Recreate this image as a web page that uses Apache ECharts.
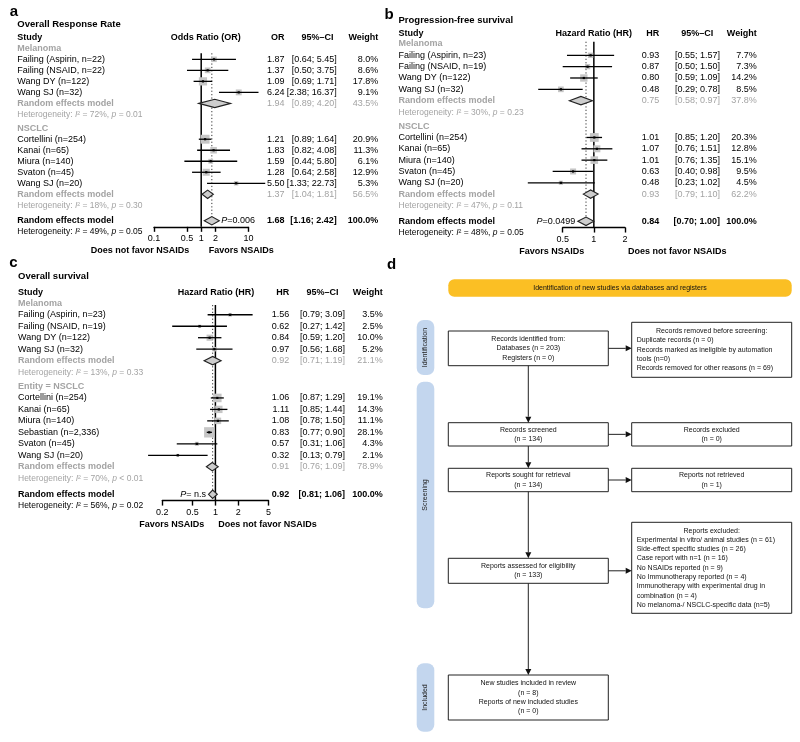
<!DOCTYPE html>
<html><head><meta charset="utf-8">
<script src="https://cdn.jsdelivr.net/npm/echarts@6/dist/echarts.min.js"></script>
<style>html,body{margin:0;padding:0;background:#fff}#c{width:800px;height:742px}</style>
</head><body><div id="c"></div>
<script>
// ================= DATA =================
// Panel a: Overall Response Rate (odds ratios) — [study, OR, lower, upper, weight%]
const orrMelanoma = [
  ['Failing (Aspirin, n=22)', 1.87, 0.64, 5.45, 8.0],
  ['Failing (NSAID, n=22)', 1.37, 0.50, 3.75, 8.6],
  ['Wang DY (n=122)', 1.09, 0.69, 1.71, 17.8],
  ['Wang SJ (n=32)', 6.24, 2.38, 16.37, 9.1]
];
const orrMelanomaPooled = [1.94, 0.89, 4.20, 43.5];
const orrMelanomaHet = ['72%', '= 0.01'];
const orrNsclc = [
  ['Cortellini (n=254)', 1.21, 0.89, 1.64, 20.9],
  ['Kanai (n=65)', 1.83, 0.82, 4.08, 11.3],
  ['Miura (n=140)', 1.59, 0.44, 5.80, 6.1],
  ['Svaton (n=45)', 1.28, 0.64, 2.58, 12.9],
  ['Wang SJ (n=20)', 5.50, 1.33, 22.73, 5.3]
];
const orrNsclcPooled = [1.37, 1.04, 1.81, 56.5];
const orrNsclcHet = ['18%', '= 0.30'];
const orrOverall = [1.68, 1.16, 2.42, 100.0];
const orrOverallHet = ['49%', '= 0.05'];
const orrP = '=0.006';
const orrTicks = [0.1, 0.5, 1, 2, 10];

// Panel b: Progression-free survival (hazard ratios)
const pfsMelanoma = [
  ['Failing (Aspirin, n=23)', 0.93, 0.55, 1.57, 7.7],
  ['Failing (NSAID, n=19)', 0.87, 0.50, 1.50, 7.3],
  ['Wang DY (n=122)', 0.80, 0.59, 1.09, 14.2],
  ['Wang SJ (n=32)', 0.48, 0.29, 0.78, 8.5]
];
const pfsMelanomaPooled = [0.75, 0.58, 0.97, 37.8];
const pfsMelanomaHet = ['30%', '= 0.23'];
const pfsNsclc = [
  ['Cortellini (n=254)', 1.01, 0.85, 1.20, 20.3],
  ['Kanai (n=65)', 1.07, 0.76, 1.51, 12.8],
  ['Miura (n=140)', 1.01, 0.76, 1.35, 15.1],
  ['Svaton (n=45)', 0.63, 0.40, 0.98, 9.5],
  ['Wang SJ (n=20)', 0.48, 0.23, 1.02, 4.5]
];
const pfsNsclcPooled = [0.93, 0.79, 1.10, 62.2];
const pfsNsclcHet = ['47%', '= 0.11'];
const pfsOverall = [0.84, 0.70, 1.00, 100.0];
const pfsOverallHet = ['48%', '= 0.05'];
const pfsP = '=0.0499';
const pfsTicks = [0.5, 1, 2];

// Panel c: Overall survival (hazard ratios)
const osMelanoma = [
  ['Failing (Aspirin, n=23)', 1.56, 0.79, 3.09, 3.5],
  ['Failing (NSAID, n=19)', 0.62, 0.27, 1.42, 2.5],
  ['Wang DY (n=122)', 0.84, 0.59, 1.20, 10.0],
  ['Wang SJ (n=32)', 0.97, 0.56, 1.68, 5.2]
];
const osMelanomaPooled = [0.92, 0.71, 1.19, 21.1];
const osMelanomaHet = ['13%', '= 0.33'];
const osNsclc = [
  ['Cortellini (n=254)', 1.06, 0.87, 1.29, 19.1],
  ['Kanai (n=65)', 1.11, 0.85, 1.44, 14.3],
  ['Miura (n=140)', 1.08, 0.78, 1.50, 11.1],
  ['Sebastian (n=2,336)', 0.83, 0.77, 0.90, 28.1],
  ['Svaton (n=45)', 0.57, 0.31, 1.06, 4.3],
  ['Wang SJ (n=20)', 0.32, 0.13, 0.79, 2.1]
];
const osNsclcPooled = [0.91, 0.76, 1.09, 78.9];
const osNsclcHet = ['70%', '< 0.01'];
const osOverall = [0.92, 0.81, 1.06, 100.0];
const osOverallHet = ['56%', '= 0.02'];
const osP = '= n.s';
const osTicks = [0.2, 0.5, 1, 2, 5];

// Panel d: PRISMA flow texts
const prismaHeader = 'Identification of new studies via databases and registers';
const prismaPhases = ['Identification', 'Screening', 'Included'];
const prismaIdentified = ['Records identified from:', 'Databases (n = 203)', 'Registers (n = 0)'];
const prismaRemovedTitle = 'Records removed before screening:';
const prismaRemoved = ['Duplicate records (n = 0)', 'Records marked as ineligible by automation', 'tools (n=0)', 'Records removed for other reasons (n = 69)'];
const prismaScreened = ['Records screened', '(n = 134)'];
const prismaExcluded = ['Records excluded', '(n = 0)'];
const prismaSought = ['Reports sought for retrieval', '(n = 134)'];
const prismaNotRetrieved = ['Reports not retrieved', '(n = 1)'];
const prismaAssessed = ['Reports assessed for eligibility', '(n = 133)'];
const prismaReportsExclTitle = 'Reports excluded:';
const prismaReportsExcl = ['Experimental in vitro/ animal studies (n = 61)', 'Side-effect specific studies (n = 26)', 'Case report with n=1 (n = 16)', 'No NSAIDs reported (n = 9)', 'No Immunotherapy reported (n = 4)', 'Immunotherapy with experimental drug in', 'combination (n = 4)', 'No melanoma-/ NSCLC-specific data (n=5)'];
const prismaIncluded = ['New studies included in review', '(n = 8)', 'Reports of new included studies', '(n = 0)'];

// ================= BUILD =================
const FONT = '"Liberation Sans", Arial, Helvetica, sans-serif';
const GREY = '#a3a3a3';
const L10 = Math.log10;

function buildRows(groups, overall, overallHet) {
  const rows = [];
  groups.forEach(g => {
    rows.push({type: 'group', label: g[0]});
    g[1].forEach(s => rows.push({type: 'study', label: s[0], est: s[1], lo: s[2], hi: s[3], w: s[4]}));
    rows.push({type: 're', label: 'Random effects model', est: g[2][0], lo: g[2][1], hi: g[2][2], w: g[2][3]});
    rows.push({type: 'het', het: g[3]});
  });
  rows.push({type: 'overall', label: 'Random effects model', est: overall[0], lo: overall[1], hi: overall[2], w: overall[3]});
  rows.push({type: 'ohet', het: overallHet});
  let s = 0;
  rows.forEach((r, i) => {
    if (i > 0) {
      const prev = rows[i - 1];
      let step = 1;
      if (r.type === 'het') step = 1.05;
      else if (prev.type === 'het' && r.type === 'group') step = 1.2;
      else if (prev.type === 'het' && r.type === 'overall') step = 1.35;
      else if (r.type === 'ohet') step = 1.02;
      s += step;
    }
    r.slot = s;
  });
  return rows;
}

const panels = [
  { letter: 'a', letterXY: [14, 12], title: 'Overall Response Rate', titleY: 24.3, headerY: 37.7,
    measure: 'Odds Ratio (OR)', estHdr: 'OR', measureX: 205.8, ciHdrX: 317.5,
    rows: buildRows([['Melanoma', orrMelanoma, orrMelanomaPooled, orrMelanomaHet], ['NSCLC', orrNsclc, orrNsclcPooled, orrNsclcHet]], orrOverall, orrOverallHet),
    ticks: orrTicks, pText: orrP, pSide: 'right',
    left: 154, width: 94.4, top: 48.3, pitch: 11.02, refTop: 0.45,
    studyX: 17.3, estX: 284.5, ciX: 336.7, wX: 378.3,
    fav: [['Does not favor NSAIDs', 140], ['Favors NSAIDs', 241.2]] },
  { letter: 'b', letterXY: [389, 14.5], title: 'Progression-free survival', titleY: 20, headerY: 33.3,
    measure: 'Hazard Ratio (HR)', estHdr: 'HR', measureX: 593.7, ciHdrX: 697.2,
    rows: buildRows([['Melanoma', pfsMelanoma, pfsMelanomaPooled, pfsMelanomaHet], ['NSCLC', pfsNsclc, pfsNsclcPooled, pfsNsclcHet]], pfsOverall, pfsOverallHet),
    ticks: pfsTicks, pText: pfsP, pSide: 'left',
    left: 562.7, width: 62.3, top: 44, pitch: 11.33, refTop: -0.2,
    studyX: 398.5, estX: 659.3, ciX: 720, wX: 756.7,
    fav: [['Favors NSAIDs', 551.7], ['Does not favor NSAIDs', 677.2]] },
  { letter: 'c', letterXY: [13.3, 262.7], title: 'Overall survival', titleY: 276.7, headerY: 292.7,
    measure: 'Hazard Ratio (HR)', estHdr: 'HR', measureX: 216, ciHdrX: 322.5,
    rows: buildRows([['Melanoma', osMelanoma, osMelanomaPooled, osMelanomaHet], ['Entity = NSCLC', osNsclc, osNsclcPooled, osNsclcHet]], osOverall, osOverallHet),
    ticks: osTicks, pText: osP, pSide: 'left',
    left: 162.3, width: 106.2, top: 303.3, pitch: 11.47, refTop: 0.15,
    studyX: 18, estX: 289.3, ciX: 345, wX: 382.7,
    fav: [['Favors NSAIDs', 171.7], ['Does not favor NSAIDs', 267.5]] }
];
panels.forEach(P => {
  P.overall = P.rows.find(r => r.type === 'overall');
  P.yMax = P.overall.slot + 0.55;
});

const fnt = (wt, sz, st) => `${st || 'normal'} ${wt} ${sz}px ${FONT}`;
function txt(text, x, y, align, fill, wt, sz, extra) {
  const st = Object.assign({text, x, y, align, textAlign: align, verticalAlign: 'middle', textVerticalAlign: 'middle', fill, font: fnt(wt, sz)}, extra || {});
  return {type: 'text', silent: true, style: st};
}
function hetText(het, col, sz) {
  return {
    text: `{n|Heterogeneity: }{i|I}{n|\u00b2 = ${het[0]}, }{i|p}{n| ${het[1]}}`,
    rich: {n: {fill: col, font: fnt('normal', sz)}, i: {fill: col, font: fnt('normal', sz, 'italic')}}
  };
}

function makeRender(P) {
  return function (params, api) {
    const k = api.value(2);
    const kids = [];
    if (k < 0) {
      const yTop = api.coord([0, P.refTop])[1];
      const yBot = api.coord([0, P.yMax])[1];
      const x1 = api.coord([0, 0])[0];
      const xo = api.coord([L10(P.overall.est), 0])[0];
      const yo = api.coord([0, P.overall.slot])[1];
      kids.push({type: 'line', silent: true, shape: {x1: xo, y1: yTop, x2: xo, y2: yo}, style: {stroke: '#333', lineWidth: 1, lineDash: [1.2, 2.2]}});
      kids.push({type: 'line', silent: true, shape: {x1: x1, y1: yTop, x2: x1, y2: yBot}, style: {stroke: '#000', lineWidth: 1.5}});
      return {type: 'group', children: kids};
    }
    const r = P.rows[k];
    const y = api.coord([0, r.slot])[1];
    const X = v => api.coord([L10(v), r.slot])[0];
    const numbers = (col, wt) => {
      kids.push(txt(r.est.toFixed(2), P.estX, y, 'right', col, wt, 9));
      kids.push(txt('[' + r.lo.toFixed(2) + '; ' + r.hi.toFixed(2) + ']', P.ciX, y, 'right', col, wt, 9));
      kids.push(txt(r.w.toFixed(1) + '%', P.wX, y, 'right', col, wt, 9));
    };
    const diamond = () => {
      const xl = X(r.lo), xh = X(r.hi), xe = X(r.est);
      kids.push({type: 'polygon', silent: true, shape: {points: [[xl, y], [xe, y - 4.2], [xh, y], [xe, y + 4.2]]}, style: {fill: '#cdcdcd', stroke: '#222', lineWidth: 1.1}});
    };
    if (r.type === 'group') {
      kids.push(txt(r.label, P.studyX, y, 'left', GREY, 'bold', 9));
    } else if (r.type === 'study') {
      const xe = X(r.est), s = 1.95 * Math.sqrt(r.w);
      kids.push({type: 'rect', silent: true, shape: {x: xe - s / 2, y: y - s / 2, width: s, height: s}, style: {fill: '#c6c6c6'}});
      kids.push({type: 'line', silent: true, shape: {x1: X(r.lo), y1: y, x2: X(r.hi), y2: y}, style: {stroke: '#000', lineWidth: 1.3}});
      kids.push({type: 'rect', silent: true, shape: {x: xe - 1.1, y: y - 1.1, width: 2.2, height: 2.2}, style: {fill: '#000'}});
      kids.push(txt(r.label, P.studyX, y, 'left', '#000', 'normal', 9));
      numbers('#000', 'normal');
    } else if (r.type === 're') {
      diamond();
      kids.push(txt(r.label, P.studyX, y, 'left', GREY, 'bold', 9));
      numbers(GREY, 'normal');
    } else if (r.type === 'het' || r.type === 'ohet') {
      const col = r.type === 'het' ? GREY : '#000';
      kids.push(txt('', P.studyX, y, 'left', col, 'normal', 8.5, hetText(r.het, col, 8.5)));
    } else if (r.type === 'overall') {
      diamond();
      kids.push(txt(r.label, P.studyX, y, 'left', '#000', 'bold', 9));
      numbers('#000', 'bold');
      const pRich = {text: `{i|P}{n|${P.pText}}`, rich: {n: {fill: '#000', font: fnt('normal', 9)}, i: {fill: '#000', font: fnt('normal', 9, 'italic')}}};
      if (P.pSide === 'right') kids.push(txt('', X(r.hi) + 2, y, 'left', '#000', 'normal', 9, pRich));
      else kids.push(txt('', X(r.lo) - 2.5, y, 'right', '#000', 'normal', 9, pRich));
    }
    return {type: 'group', children: kids};
  };
}

const niceTick = v => String(parseFloat(Math.pow(10, v).toPrecision(2)));

const graphics = [];
function gText(text, x, y, align, font, fill, extra) {
  graphics.push({type: 'text', silent: true, style: Object.assign({text, x, y, align, textAlign: align, verticalAlign: 'middle', textVerticalAlign: 'middle', font, fill: fill || '#000'}, extra || {})});
}
panels.forEach(P => {
  gText(P.letter, P.letterXY[0], P.letterXY[1], 'center', fnt('bold', 15));
  gText(P.title, P.studyX, P.titleY, 'left', fnt('bold', 9.5));
  gText('Study', P.studyX, P.headerY, 'left', fnt('bold', 9));
  gText(P.measure, P.measureX, P.headerY, 'center', fnt('bold', 9));
  gText(P.estHdr, P.estX, P.headerY, 'right', fnt('bold', 9));
  gText('95%\u2013CI', P.ciHdrX, P.headerY, 'center', fnt('bold', 9));
  gText('Weight', P.wX, P.headerY, 'right', fnt('bold', 9));
  const axisY = P.top + P.yMax * P.pitch;
  P.fav.forEach(f => gText(f[0], f[1], axisY + 24, 'center', fnt('bold', 9)));
});

// ---- PRISMA (panel d)
gText('d', 391.7, 265, 'center', fnt('bold', 15));
const PF = fnt('normal', 7);
const LH = 9.3;
graphics.push({type: 'rect', silent: true, shape: {x: 448.3, y: 279.3, width: 343.4, height: 17.4, r: 6}, style: {fill: '#fbbf24'}});
gText(prismaHeader, 620, 288, 'center', PF, '#111');
const phaseBars = [[320, 375], [381.7, 608.3], [663.3, 731.7]];
phaseBars.forEach((b, i) => {
  graphics.push({type: 'rect', silent: true, shape: {x: 416.7, y: b[0], width: 17.6, height: b[1] - b[0], r: 7}, style: {fill: '#c3d6ee'}});
  graphics.push({type: 'text', silent: true, x: 425.5, y: (b[0] + b[1]) / 2, rotation: Math.PI / 2,
    style: {text: prismaPhases[i], x: 0, y: 0, align: 'center', textAlign: 'center', verticalAlign: 'middle', textVerticalAlign: 'middle', font: PF, fill: '#222'}});
});
function box(x, y, w, h) {
  graphics.push({type: 'rect', silent: true, shape: {x, y, width: w, height: h}, style: {fill: '#fff', stroke: '#222', lineWidth: 1}});
}
function centeredLines(lines, cx, cy) {
  const y0 = cy - (lines.length - 1) / 2 * LH;
  lines.forEach((l, i) => gText(l, cx, y0 + i * LH, 'center', PF, '#111'));
}
function titledLines(title, lines, bx, bw, cy) {
  const n = lines.length + 1;
  const y0 = cy - (n - 1) / 2 * LH;
  gText(title, bx + bw / 2, y0, 'center', PF, '#111');
  lines.forEach((l, i) => gText(l, bx + 5, y0 + (i + 1) * LH, 'left', PF, '#111'));
}
const LX = 448.3, RX = 631.7, BW = 160;
const leftBoxes = [[331, 34.7, prismaIdentified], [422.7, 23.3, prismaScreened], [468.3, 23.4, prismaSought], [558.3, 25, prismaAssessed], [675, 45, prismaIncluded]];
leftBoxes.forEach(b => { box(LX, b[0], BW, b[1]); centeredLines(b[2], LX + BW / 2, b[0] + b[1] / 2); });
box(RX, 322.3, BW, 55); titledLines(prismaRemovedTitle, prismaRemoved, RX, BW, 349.8);
box(RX, 422.7, BW, 23.3); centeredLines(prismaExcluded, RX + BW / 2, 434.3);
box(RX, 468.3, BW, 23.4); centeredLines(prismaNotRetrieved, RX + BW / 2, 480);
box(RX, 522.3, BW, 91); titledLines(prismaReportsExclTitle, prismaReportsExcl, RX, BW, 567.8);
function arrow(x1, y1, x2, y2) {
  const ang = Math.atan2(y2 - y1, x2 - x1), L = 6, Wd = 3;
  const bx = x2 - L * Math.cos(ang), by = y2 - L * Math.sin(ang);
  graphics.push({type: 'line', silent: true, shape: {x1, y1, x2: bx, y2: by}, style: {stroke: '#222', lineWidth: 1}});
  graphics.push({type: 'polygon', silent: true, shape: {points: [[x2, y2], [bx - Wd * Math.sin(ang), by + Wd * Math.cos(ang)], [bx + Wd * Math.sin(ang), by - Wd * Math.cos(ang)]]}, style: {fill: '#111'}});
}
const CX = LX + BW / 2;
leftBoxes.slice(0, 4).forEach((b, i) => {
  arrow(CX, b[0] + b[1], CX, leftBoxes[i + 1][0]);
  arrow(LX + BW, b[0] + b[1] / 2, RX, b[0] + b[1] / 2);
});

const option = {
  animation: false,
  backgroundColor: '#fff',
  grid: panels.map(P => ({left: P.left, top: P.top, width: P.width, height: P.yMax * P.pitch, containLabel: false, outerBoundsMode: 'none'})),
  xAxis: panels.map((P, i) => {
    const tv = P.ticks.map(L10);
    return {
      gridIndex: i, type: 'value', min: tv[0], max: tv[tv.length - 1],
      axisLine: {show: true, onZero: false, lineStyle: {color: '#000', width: 1.4}},
      axisTick: {show: true, length: 5, customValues: tv, lineStyle: {color: '#000', width: 1.4}},
      axisLabel: {show: true, customValues: tv, formatter: niceTick, margin: 7, fontSize: 9, fontFamily: FONT, color: '#000'},
      splitLine: {show: false}
    };
  }),
  yAxis: panels.map((P, i) => ({gridIndex: i, type: 'value', inverse: true, min: 0, max: P.yMax, show: false})),
  series: panels.map((P, i) => ({
    type: 'custom', xAxisIndex: i, yAxisIndex: i, clip: false, silent: true,
    data: [[0, 0, -1]].concat(P.rows.map((r, k) => [r.est ? L10(r.est) : 0, r.slot, k])),
    encode: {x: 0, y: 1},
    renderItem: makeRender(P)
  })),
  graphic: {elements: graphics}
};
const chart = echarts.init(document.getElementById('c'), null, {renderer: 'canvas'});
chart.setOption(option);
</script>
</body></html>
